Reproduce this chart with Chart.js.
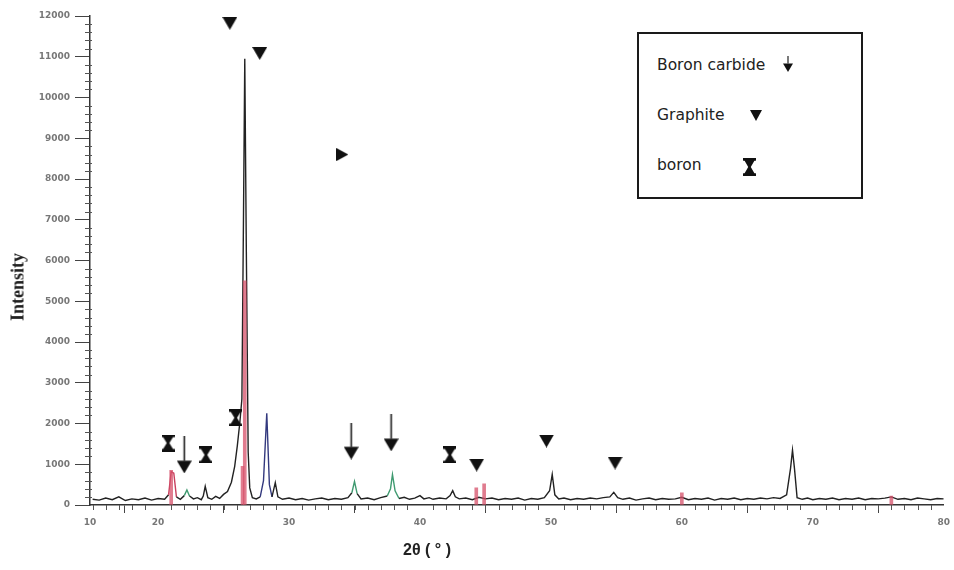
<!DOCTYPE html>
<html>
<head>
<meta charset="utf-8">
<script src="https://cdn.jsdelivr.net/npm/chart.js@4.4.1/dist/chart.umd.min.js"></script>
<style>
  body { margin: 0; background: #fff; }
  #wrap { position: relative; width: 954px; height: 570px; }
  #legendBox {
    position: absolute; left: 637px; top: 32px; width: 226px; height: 167px;
    border: 2px solid #1a1a1a; box-sizing: border-box; background: #fff;
    font-family: "DejaVu Sans", sans-serif; font-size: 15.5px; color: #222;
  }
  #legendBox .row { position: absolute; left: 18px; line-height: 18px; }
  #legendBox canvas { position: absolute; }
  .axisTitle { position: absolute; font-weight: bold; color: #222; white-space: nowrap; }
  #yTitle {
    left: 18px; top: 287px; font-family: "Liberation Serif", serif; font-size: 18px;
    transform: translate(-50%, -50%) rotate(-90deg);
  }
  #xTitle {
    left: 427px; top: 550px; font-family: "Liberation Sans", sans-serif; font-size: 16px;
    transform: translate(-50%, -50%);
  }
</style>
</head>
<body>
<div id="wrap">
  <canvas id="xrdChart" width="954" height="570"></canvas>
  <div id="legendBox">
    <div class="row" style="top:22px">Boron carbide</div>
    <div class="row" style="top:72px">Graphite</div>
    <div class="row" style="top:122px">boron</div>
    <canvas id="lgArrow" width="10" height="16" style="left:144px;top:22px"></canvas>
    <canvas id="lgTri" width="12" height="11" style="left:111px;top:76px"></canvas>
    <canvas id="lgHour" width="13" height="18" style="left:104px;top:124px"></canvas>
  </div>
  <div class="axisTitle" id="yTitle">Intensity</div>
  <div class="axisTitle" id="xTitle">2θ ( ° )</div>
</div>
<script>
// diffraction pattern
var twoTheta = [15.0, 15.5, 16.0, 16.5, 17.0, 17.5, 18.0, 18.5, 19.0, 19.5, 20.0, 20.5, 20.8, 21.0, 21.2, 21.4, 21.7,
  22.0, 22.2, 22.4, 22.7, 23.0, 23.3, 23.45, 23.6, 23.8, 24.1, 24.4, 24.7, 25.0, 25.3, 25.6, 25.85, 26.05, 26.25, 26.4,
  26.52, 26.62, 26.74, 26.88, 27.0, 27.2, 27.5, 27.8, 28.05, 28.3, 28.5, 28.7, 28.95, 29.15, 29.5, 30.0, 30.5, 31.0,
  31.5, 32.0, 32.5, 33.0, 33.5, 34.0, 34.5, 34.8, 35.0, 35.2, 35.5, 36.0, 36.5, 37.0, 37.5, 37.75, 37.9, 38.1, 38.4,
  38.8, 39.2, 39.6, 40.0, 40.3, 40.7, 41.0, 41.5, 42.0, 42.3, 42.5, 42.7, 43.0, 43.5, 44.0, 44.5, 45.0, 45.5, 46.0,
  46.5, 47.0, 47.5, 48.0, 48.5, 49.0, 49.5, 49.9, 50.1, 50.3, 50.6, 51.0, 51.5, 52.0, 52.5, 53.0, 53.5, 54.0, 54.5,
  54.8, 55.1, 55.5, 56.0, 56.5, 57.0, 57.5, 58.0, 58.5, 59.0, 59.5, 60.0, 60.5, 61.0, 61.5, 62.0, 62.5, 63.0, 63.5,
  64.0, 64.5, 65.0, 65.5, 66.0, 66.5, 67.0, 67.5, 68.0, 68.3, 68.45, 68.6, 68.8, 69.2, 69.6, 70.0, 70.5, 71.0, 71.5,
  72.0, 72.5, 73.0, 73.5, 74.0, 74.5, 75.0, 75.5, 76.0, 76.5, 77.0, 77.5, 78.0, 78.5, 79.0, 79.5, 80.0];
var intensity = [140, 120, 170, 130, 200, 110, 150, 130, 170, 120, 160, 140, 250, 820, 780, 200, 140,
  230, 370, 220, 150, 180, 130, 220, 460, 180, 140, 210, 160, 260, 330, 560, 950, 1450, 2050, 2600,
  7000, 10950, 6200, 1300, 420, 180, 150, 200, 600, 2250, 500, 200, 550, 200, 140, 170, 130, 160,
  120, 150, 170, 130, 160, 140, 180, 300, 580, 280, 150, 170, 130, 180, 220, 400, 750, 350, 160,
  190, 140, 170, 230, 150, 180, 140, 170, 150, 230, 350, 200, 150, 170, 130, 190, 150, 170, 130,
  160, 140, 170, 120, 160, 140, 180, 350, 750, 250, 150, 170, 130, 160, 140, 170, 150, 180, 200,
  310, 180, 140, 170, 120, 150, 170, 130, 160, 140, 150, 190, 130, 160, 140, 170, 120, 160, 140,
  170, 130, 160, 140, 170, 150, 180, 160, 250, 900, 1350, 900, 180, 140, 170, 130, 160, 140, 170,
  130, 160, 140, 170, 130, 160, 150, 170, 200, 140, 160, 130, 170, 150, 130, 160, 150];

// coloured stretches of the trace
var tintFrom = [20.7, 21.9, 27.9, 34.7, 37.6];
var tintTo = [21.5, 22.5, 28.7, 35.3, 38.3];
var tintColor = ['#c8405e', '#3f9a70', '#33397e', '#3f9a70', '#3f9a70'];

// red reference sticks
var stickX = [21.0, 26.45, 26.62, 44.3, 44.9, 60.0, 76.0];
var stickY = [850, 950, 5500, 420, 520, 300, 220];

// phase markers
var carbideX = [22.0, 34.75, 37.8];
var carbideY = [1230, 1570, 1770];
var graphiteX = [25.48, 27.76, 44.33, 49.66, 54.9];
var graphiteY = [11820, 11080, 980, 1570, 1030];
var boronX = [20.76, 23.65, 25.93, 42.28];
var boronY = [1520, 1230, 2140, 1230];
var otherX = [34.07];
var otherY = [8600];

// axes
var tickValues = [14.8, 20, 30, 40, 50, 60, 70, 80];
var tickLabels = ['10', '20', '30', '40', '50', '60', '70', '80'];

function toPoints(xs, ys) {
  var pts = [];
  for (var i = 0; i < xs.length; i++) {
    pts.push({x: xs[i], y: ys[i]});
  }
  return pts;
}

function drawTriangle(c, dir) {
  var ctx = c.getContext('2d');
  var w = c.width, h = c.height;
  ctx.fillStyle = '#111';
  ctx.beginPath();
  if (dir == 'down') {
    ctx.moveTo(0, 0); ctx.lineTo(w, 0); ctx.lineTo(w / 2, h);
  } else {
    ctx.moveTo(0, 0); ctx.lineTo(w, h / 2); ctx.lineTo(0, h);
  }
  ctx.closePath();
  ctx.fill();
  return c;
}

function drawHourglass(c) {
  var ctx = c.getContext('2d');
  var w = c.width, h = c.height;
  ctx.fillStyle = '#111';
  ctx.fillRect(0, 0, w, h * 0.15);
  ctx.fillRect(0, h * 0.85, w, h * 0.15);
  ctx.beginPath();
  ctx.moveTo(w * 0.08, h * 0.1);
  ctx.lineTo(w * 0.92, h * 0.1);
  ctx.lineTo(w * 0.6, h * 0.5);
  ctx.lineTo(w * 0.92, h * 0.9);
  ctx.lineTo(w * 0.08, h * 0.9);
  ctx.lineTo(w * 0.4, h * 0.5);
  ctx.closePath();
  ctx.fill();
  return c;
}

function drawArrow(c) {
  var ctx = c.getContext('2d');
  var w = c.width, h = c.height;
  var head = w * 0.85;
  ctx.strokeStyle = '#222';
  ctx.lineWidth = Math.max(1.2, w / 9);
  ctx.beginPath();
  ctx.moveTo(w / 2, 0);
  ctx.lineTo(w / 2, h - head);
  ctx.stroke();
  ctx.fillStyle = '#111';
  ctx.beginPath();
  ctx.moveTo(0, h - head); ctx.lineTo(w, h - head); ctx.lineTo(w / 2, h);
  ctx.closePath();
  ctx.fill();
  return c;
}

function newCanvas(w, h) {
  var c = document.createElement('canvas');
  c.width = w;
  c.height = h;
  return c;
}

function tintFor(x0, x1) {
  var mid = (x0 + x1) / 2;
  for (var i = 0; i < tintFrom.length; i++) {
    if (mid >= tintFrom[i] && mid <= tintTo[i]) return tintColor[i];
  }
  return '#222';
}

var minorTicks = {
  id: 'minorTicks',
  afterDraw: function (chart) {
    var ctx = chart.ctx;
    var xs = chart.scales.x, ys = chart.scales.y;
    var left = chart.chartArea.left, bottom = chart.chartArea.bottom;
    ctx.save();
    ctx.strokeStyle = '#555';
    ctx.lineWidth = 1;
    ctx.beginPath();
    for (var v = 200; v < 12000; v += 200) {
      if (v % 1000 == 0) continue;
      var py = Math.round(ys.getPixelForValue(v)) + 0.5;
      ctx.moveTo(left - 5, py); ctx.lineTo(left + 2, py);
    }
    for (var d = 15; d < 80; d++) {
      if (d % 10 == 0) continue;
      var px = Math.round(xs.getPixelForValue(d)) + 0.5;
      ctx.moveTo(px, bottom); ctx.lineTo(px, bottom + 5);
    }
    ctx.stroke();
    ctx.restore();
  }
};

drawArrow(document.getElementById('lgArrow'));
drawTriangle(document.getElementById('lgTri'), 'down');
drawHourglass(document.getElementById('lgHour'));

var tickFont = {family: 'DejaVu Sans', size: 9, weight: 'bold'};

var xrdChart = new Chart(document.getElementById('xrdChart'), {
  type: 'line',
  data: {
    datasets: [
      {
        type: 'scatter', data: toPoints(carbideX, carbideY),
        pointStyle: drawArrow(newCanvas(15, 37)), pointRadius: 8, order: 0
      },
      {
        type: 'scatter', data: toPoints(graphiteX, graphiteY),
        pointStyle: drawTriangle(newCanvas(15, 13), 'down'), pointRadius: 8, order: 0
      },
      {
        type: 'scatter', data: toPoints(boronX, boronY),
        pointStyle: drawHourglass(newCanvas(13, 17)), pointRadius: 8, order: 0
      },
      {
        type: 'scatter', data: toPoints(otherX, otherY),
        pointStyle: drawTriangle(newCanvas(12, 13), 'right'), pointRadius: 8, order: 0
      },
      {
        type: 'bar', data: toPoints(stickX, stickY),
        backgroundColor: 'rgba(214,80,105,0.75)', barThickness: 3, order: 1
      },
      {
        type: 'line', data: toPoints(twoTheta, intensity),
        borderColor: '#222', borderWidth: 1.4, pointRadius: 0, tension: 0, order: 2,
        segment: {
          borderColor: function (c) { return tintFor(c.p0.parsed.x, c.p1.parsed.x); }
        }
      }
    ]
  },
  options: {
    responsive: false,
    animation: false,
    devicePixelRatio: 1,
    layout: {padding: {left: 0, top: 16, right: 9, bottom: 0}},
    plugins: {legend: {display: false}, tooltip: {enabled: false}},
    scales: {
      x: {
        type: 'linear', min: 14.8, max: 80, offset: false,
        afterBuildTicks: function (s) {
          s.ticks = tickValues.map(function (v) { return {value: v}; });
        },
        afterFit: function (s) { s.height = 65; },
        ticks: {
          font: tickFont, color: '#777', padding: 4, maxRotation: 0, autoSkip: false,
          callback: function (v, i) { return tickLabels[i]; }
        },
        grid: {drawOnChartArea: false, tickLength: 8, color: '#444'},
        border: {color: '#333', width: 1.5}
      },
      y: {
        min: 0, max: 12000,
        afterFit: function (s) { s.width = 90; },
        ticks: {
          stepSize: 1000, font: tickFont, color: '#777', padding: 5,
          callback: function (v) { return String(v); }
        },
        grid: {drawOnChartArea: false, tickLength: 15, color: '#444'},
        border: {color: '#333', width: 1.5}
      }
    }
  },
  plugins: [minorTicks]
});
</script>
</body>
</html>
